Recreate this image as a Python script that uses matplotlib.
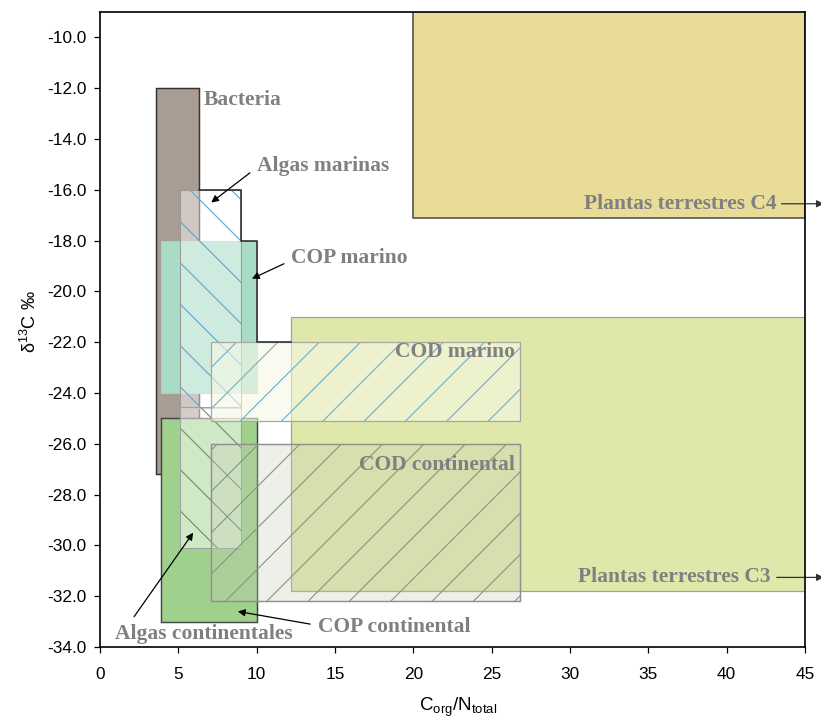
import matplotlib.pyplot as plt
import matplotlib.patches as mpatches
from matplotlib.ticker import FormatStrFormatter

# hatch spacing follows the dpi, so pick the dpi for it and scale sizes back
DPI = 124
K = 150 / DPI

plt.rcParams['font.family'] = ['Liberation Sans', 'DejaVu Sans']
plt.rcParams['axes.unicode_minus'] = False
plt.rcParams['hatch.linewidth'] = 0.55 * K
plt.rcParams['mathtext.fontset'] = 'custom'
plt.rcParams['mathtext.rm'] = 'Liberation Sans'

# DATA: source boxes (C/N range and d13C range)
regions = ["Plantas terrestres C4", "Plantas terrestres C3", "Bacteria", "COP marino",
           "COP continental", "Algas marinas", "Algas continentales", "COD marino",
           "COD continental"]
cn_low = [20.0, 12.2, 3.6, 3.9, 3.9, 5.1, 5.1, 7.1, 7.1]
cn_high = [45.0, 45.0, 6.3, 10.0, 10.0, 9.0, 9.0, 26.8, 26.8]
d13c_low = [-17.1, -31.8, -27.2, -24.0, -33.0, -24.6, -30.1, -25.1, -32.2]
d13c_high = [-8.9, -21.0, -12.0, -18.0, -25.0, -16.0, -24.55, -22.0, -26.0]

x_ticks = [0, 5, 10, 15, 20, 25, 30, 35, 40, 45]
y_ticks = [-34, -32, -30, -28, -26, -24, -22, -20, -18, -16, -14, -12, -10]

# STYLES per region (face, alpha, edge, edge width, hatch, hatch colour)
styles = {
    "Plantas terrestres C4": ("#e8dc98", 1.0, "#555555", 0.8, None, None),
    "Plantas terrestres C3": ("#dfe7aa", 1.0, "#a0a0a0", 0.6, None, None),
    "Bacteria": ("#a99c92", 1.0, "#333333", 0.7, None, None),
    "COP marino": ("#a9dcc6", 1.0, "#b8c8c0", 0.5, None, None),
    "COP continental": ("#a0d18c", 1.0, "#444444", 0.7, None, None),
    "Algas marinas": ("#ffffff", 0.45, "#9a9a9a", 0.5, "\\", "#5fa8cc"),
    "Algas continentales": ("#ffffff", 0.5, "#a0a0a0", 0.5, "\\", "#6f8f70"),
    "COD marino": ("#f8f9e6", 0.6, "#a8a8a0", 0.6, "/", "#6fb2c8"),
    "COD continental": ("#c8ccb8", 0.3, "#909090", 0.7, "/", "#809c80"),
}

fig = plt.figure(figsize=(821 / DPI, 721 / DPI), dpi=DPI)
ax = fig.add_axes([100 / 821, 1 - 647 / 721, 705 / 821, 635 / 721])

for i, name in enumerate(regions):
    fc, alpha, ec, lw, hatch, hc = styles[name]
    xy = (cn_low[i], d13c_low[i])
    w = cn_high[i] - cn_low[i]
    h = d13c_high[i] - d13c_low[i]
    face = mpatches.Rectangle(xy, w, h, facecolor=fc, alpha=alpha, edgecolor='none',
                              zorder=1 + i * 0.1)
    ax.add_patch(face)
    if hatch:
        hp = mpatches.Rectangle(xy, w, h, facecolor='none', edgecolor=hc, lw=0,
                                hatch=hatch, zorder=1.01 + i * 0.1)
        ax.add_patch(hp)
    edge = mpatches.Rectangle(xy, w, h, facecolor='none', edgecolor=ec, lw=lw * K,
                              zorder=1.02 + i * 0.1)
    ax.add_patch(edge)

# dark stepped outline along the marine boxes
idx = {n: i for i, n in enumerate(regions)}
am, cm, cd, c3 = idx["Algas marinas"], idx["COP marino"], idx["COD marino"], idx["Plantas terrestres C3"]
bx = idx["Bacteria"]
step_x = [cn_high[bx], cn_high[am], cn_high[am], cn_high[cm], cn_high[cm], cn_low[c3]]
step_y = [d13c_high[am], d13c_high[am], d13c_high[cm], d13c_high[cm], d13c_high[cd], d13c_high[cd]]
ax.plot(step_x, step_y, color='#333333', lw=0.8 * K, zorder=3)

# labels
lab = dict(family=['Liberation Serif', 'DejaVu Serif'], fontweight='bold', fontsize=10.3 * K,
           color='#808080')
arr = dict(arrowstyle='-|>', color='black', lw=0.6 * K, mutation_scale=7 * K,
           shrinkA=2 * K, shrinkB=0)

ax.text(6.6, -12.45, "Bacteria", ha='left', va='center', zorder=5, **lab)
ax.annotate("Algas marinas", xy=(7.1, -16.5), xytext=(10.0, -15.05), ha='left', va='center',
            arrowprops=dict(relpos=(0, 0.4), **arr), zorder=5, **lab)
ax.annotate("COP marino", xy=(9.7, -19.5), xytext=(12.2, -18.7), ha='left', va='center',
            arrowprops=dict(relpos=(0, 0.4), **arr), zorder=5, **lab)
ax.text(26.5, -22.4, "COD marino", ha='right', va='center', zorder=2.5, **lab)
ax.text(26.5, -26.85, "COD continental", ha='right', va='center', zorder=2.5, **lab)
ax.text(43.2, -16.55, "Plantas terrestres C4", ha='right', va='center', zorder=5, **lab)
ax.text(42.8, -31.26, "Plantas terrestres C3", ha='right', va='center', zorder=5, **lab)
ax.annotate("Algas continentales", xy=(5.95, -29.5), xytext=(0.96, -33.47), ha='left',
            va='center', arrowprops=dict(relpos=(0.08, 1.0), **arr), zorder=5, **lab)
ax.annotate("COP continental", xy=(8.8, -32.6), xytext=(13.9, -33.23), ha='left',
            va='center', arrowprops=dict(relpos=(0, 0.6), **arr), zorder=5, **lab)

# arrows leaving the plot for the plant boxes
plant_arr = dict(arrowstyle='-|>', color='#333333', lw=0.6 * K, mutation_scale=7 * K,
                 shrinkA=0, shrinkB=0)
ax.annotate("", xy=(46.2, -16.55), xytext=(43.5, -16.55), arrowprops=plant_arr,
            annotation_clip=False)
ax.annotate("", xy=(46.2, -31.26), xytext=(43.2, -31.26), arrowprops=plant_arr,
            annotation_clip=False)

ax.set_xlim(0, 45)
ax.set_ylim(-34, -9)
ax.set_xticks(x_ticks)
ax.set_yticks(y_ticks)
ax.yaxis.set_major_formatter(FormatStrFormatter('%.1f'))
ax.tick_params(direction='out', length=3 * K, width=0.6 * K, labelsize=8.3 * K, color='black')
ax.tick_params(axis='x', pad=6.5 * K)
ax.tick_params(axis='y', pad=3.5 * K)
for sp in ax.spines.values():
    sp.set_linewidth(0.8 * K)
    sp.set_zorder(6)

ax.set_xlabel(r'C$_{\mathregular{org}}$/N$_{\mathregular{total}}$', fontsize=9 * K)
ax.xaxis.set_label_coords(0.508, -0.0945)
ax.xaxis.label.set_va('center')
ax.set_ylabel('δ$^{13}$C ‰', fontsize=8.7 * K)
ax.yaxis.set_label_coords(-0.1, 0.512)
ax.yaxis.label.set_va('center')

fig.savefig('out.png', dpi=DPI)
